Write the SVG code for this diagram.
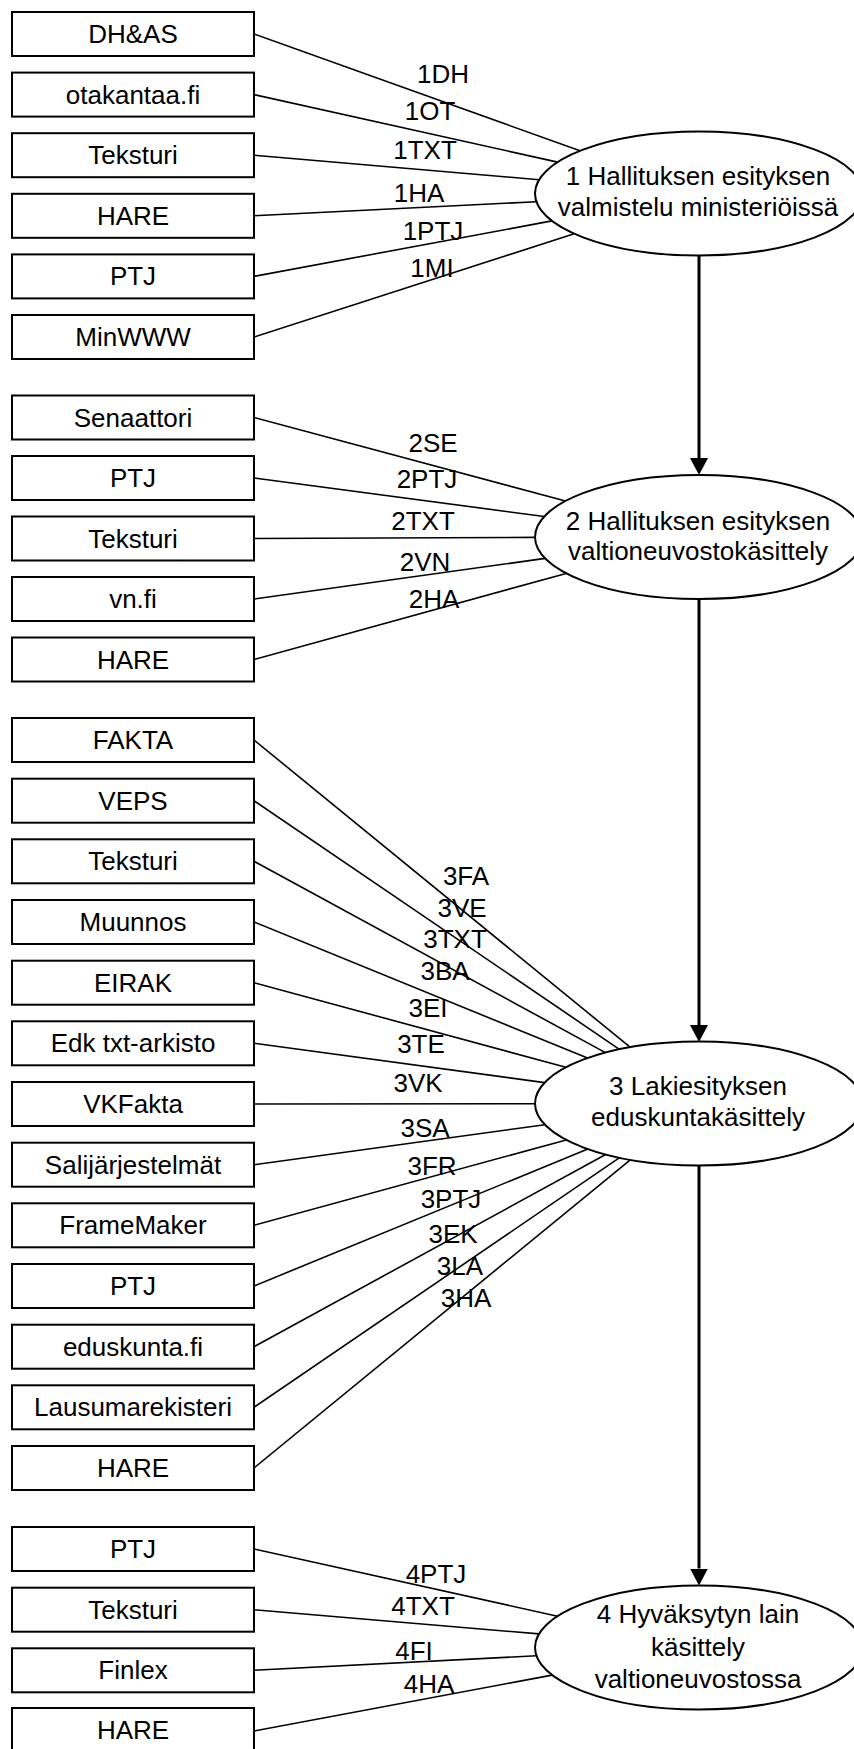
<svg xmlns="http://www.w3.org/2000/svg" width="854" height="1749" viewBox="0 0 854 1749">
<style>
.box{fill:#fff;stroke:#000;stroke-width:2}
.ell{fill:#fff;stroke:#000;stroke-width:2}
.t{font-family:"Liberation Sans",Arial,sans-serif;font-size:26px;fill:#000;text-anchor:middle}
.c{stroke:#000;stroke-width:1.6;fill:none}
.flow{stroke:#000;stroke-width:3;fill:none;marker-end:url(#ah)}
</style>
<defs>
<marker id="ah" markerUnits="userSpaceOnUse" markerWidth="18" markerHeight="18" refX="0" refY="9" orient="auto">
<path d="M0,0 L17,9 L0,18 Z" fill="#000"/>
</marker>
</defs>
<rect width="854" height="1749" fill="#fff"/>

<g id="connectors">
<!-- group 1 -->
<line class="c" x1="254" y1="34" x2="580" y2="150.8"/>
<line class="c" x1="254" y1="94.6" x2="557.6" y2="162.1"/>
<line class="c" x1="254" y1="155.2" x2="539.1" y2="179.7"/>
<line class="c" x1="254" y1="215.8" x2="536.4" y2="201.7"/>
<line class="c" x1="254" y1="276.4" x2="551.9" y2="220.9"/>
<line class="c" x1="254" y1="337" x2="574.2" y2="233.7"/>
<!-- group 2 -->
<line class="c" x1="254" y1="417.5" x2="565.5" y2="501"/>
<line class="c" x1="254" y1="478" x2="544.2" y2="516.5"/>
<line class="c" x1="254" y1="538.5" x2="535" y2="537.4"/>
<line class="c" x1="254" y1="599" x2="545.1" y2="558.4"/>
<line class="c" x1="254" y1="659.5" x2="566.2" y2="573.4"/>
<!-- group 3 -->
<line class="c" x1="254" y1="740" x2="630.1" y2="1047.2"/>
<line class="c" x1="254" y1="800.7" x2="619.4" y2="1049.3"/>
<line class="c" x1="254" y1="861.3" x2="605.4" y2="1052.6"/>
<line class="c" x1="254" y1="922" x2="587.5" y2="1058"/>
<line class="c" x1="254" y1="982.7" x2="565.8" y2="1067.3"/>
<line class="c" x1="254" y1="1043.3" x2="544.6" y2="1082.6"/>
<line class="c" x1="254" y1="1104" x2="535" y2="1103.7"/>
<line class="c" x1="254" y1="1164.7" x2="544.9" y2="1124.7"/>
<line class="c" x1="254" y1="1225.3" x2="566.2" y2="1139.9"/>
<line class="c" x1="254" y1="1286" x2="587.8" y2="1149.1"/>
<line class="c" x1="254" y1="1346.7" x2="605.7" y2="1154.5"/>
<line class="c" x1="254" y1="1407.3" x2="619.6" y2="1157.7"/>
<line class="c" x1="254" y1="1468" x2="630.3" y2="1159.8"/>
<!-- group 4 -->
<line class="c" x1="254" y1="1549" x2="557.5" y2="1616.2"/>
<line class="c" x1="254" y1="1609.7" x2="539" y2="1633.9"/>
<line class="c" x1="254" y1="1670.3" x2="536.5" y2="1655.8"/>
<line class="c" x1="254" y1="1731" x2="552.1" y2="1675.1"/>
<!-- flow arrows -->
<line class="flow" x1="699" y1="256" x2="699" y2="458"/>
<line class="flow" x1="699" y1="599" x2="699" y2="1025"/>
<line class="flow" x1="699" y1="1165.5" x2="699" y2="1568.5"/>
<!-- labels -->
<text class="t" x="443" y="83">1DH</text>
<text class="t" x="430" y="120">1OT</text>
<text class="t" x="425" y="159">1TXT</text>
<text class="t" x="419" y="202">1HA</text>
<text class="t" x="433" y="240">1PTJ</text>
<text class="t" x="432" y="277">1MI</text>
<text class="t" x="433" y="452">2SE</text>
<text class="t" x="427" y="488">2PTJ</text>
<text class="t" x="423" y="530">2TXT</text>
<text class="t" x="425" y="571">2VN</text>
<text class="t" x="434" y="608">2HA</text>
<text class="t" x="466" y="885">3FA</text>
<text class="t" x="462" y="917">3VE</text>
<text class="t" x="455" y="948">3TXT</text>
<text class="t" x="445" y="980">3BA</text>
<text class="t" x="428" y="1017">3EI</text>
<text class="t" x="421" y="1053">3TE</text>
<text class="t" x="418" y="1092">3VK</text>
<text class="t" x="425" y="1137">3SA</text>
<text class="t" x="432" y="1175">3FR</text>
<text class="t" x="451" y="1208">3PTJ</text>
<text class="t" x="453" y="1243">3EK</text>
<text class="t" x="460" y="1275">3LA</text>
<text class="t" x="466" y="1307">3HA</text>
<text class="t" x="436" y="1583">4PTJ</text>
<text class="t" x="423" y="1615">4TXT</text>
<text class="t" x="414" y="1660">4FI</text>
<text class="t" x="429" y="1693">4HA</text>
</g>

<!-- process ellipses -->
<g id="p1"><ellipse class="ell" cx="699" cy="193.5" rx="164" ry="62"/>
<text class="t" x="698" y="185">1 Hallituksen esityksen</text>
<text class="t" x="698" y="216">valmistelu ministeriöissä</text></g>
<g id="p2"><ellipse class="ell" cx="699" cy="537" rx="164" ry="62"/>
<text class="t" x="698" y="530">2 Hallituksen esityksen</text>
<text class="t" x="698" y="560">valtioneuvostokäsittely</text></g>
<g id="p3"><ellipse class="ell" cx="699" cy="1103.5" rx="164" ry="62"/>
<text class="t" x="698" y="1095">3 Lakiesityksen</text>
<text class="t" x="698" y="1126">eduskuntakäsittely</text></g>
<g id="p4"><ellipse class="ell" cx="699" cy="1647.5" rx="164" ry="62"/>
<text class="t" x="698" y="1623">4 Hyväksytyn lain</text>
<text class="t" x="698" y="1656">käsittely</text>
<text class="t" x="698" y="1688">valtioneuvostossa</text></g>

<!-- group 1 boxes -->
<g id="b1-dhas"><rect class="box" x="12" y="12" width="242" height="44"/><text class="t" x="133" y="43">DH&amp;AS</text></g>
<g id="b1-otakantaa"><rect class="box" x="12" y="72.6" width="242" height="44"/><text class="t" x="133" y="103.6">otakantaa.fi</text></g>
<g id="b1-teksturi"><rect class="box" x="12" y="133.2" width="242" height="44"/><text class="t" x="133" y="164.2">Teksturi</text></g>
<g id="b1-hare"><rect class="box" x="12" y="193.8" width="242" height="44"/><text class="t" x="133" y="224.8">HARE</text></g>
<g id="b1-ptj"><rect class="box" x="12" y="254.4" width="242" height="44"/><text class="t" x="133" y="285.4">PTJ</text></g>
<g id="b1-minwww"><rect class="box" x="12" y="315" width="242" height="44"/><text class="t" x="133" y="346">MinWWW</text></g>

<!-- group 2 boxes -->
<g id="b2-senaattori"><rect class="box" x="12" y="395.5" width="242" height="44"/><text class="t" x="133" y="426.5">Senaattori</text></g>
<g id="b2-ptj"><rect class="box" x="12" y="456" width="242" height="44"/><text class="t" x="133" y="487">PTJ</text></g>
<g id="b2-teksturi"><rect class="box" x="12" y="516.5" width="242" height="44"/><text class="t" x="133" y="547.5">Teksturi</text></g>
<g id="b2-vnfi"><rect class="box" x="12" y="577" width="242" height="44"/><text class="t" x="133" y="608">vn.fi</text></g>
<g id="b2-hare"><rect class="box" x="12" y="637.5" width="242" height="44"/><text class="t" x="133" y="668.5">HARE</text></g>

<!-- group 3 boxes -->
<g id="b3-fakta"><rect class="box" x="12" y="718" width="242" height="44"/><text class="t" x="133" y="749">FAKTA</text></g>
<g id="b3-veps"><rect class="box" x="12" y="778.7" width="242" height="44"/><text class="t" x="133" y="809.7">VEPS</text></g>
<g id="b3-teksturi"><rect class="box" x="12" y="839.3" width="242" height="44"/><text class="t" x="133" y="870.3">Teksturi</text></g>
<g id="b3-muunnos"><rect class="box" x="12" y="900" width="242" height="44"/><text class="t" x="133" y="931">Muunnos</text></g>
<g id="b3-eirak"><rect class="box" x="12" y="960.7" width="242" height="44"/><text class="t" x="133" y="991.7">EIRAK</text></g>
<g id="b3-edk"><rect class="box" x="12" y="1021.3" width="242" height="44"/><text class="t" x="133" y="1052.3">Edk txt-arkisto</text></g>
<g id="b3-vkfakta"><rect class="box" x="12" y="1082" width="242" height="44"/><text class="t" x="133" y="1113">VKFakta</text></g>
<g id="b3-sali"><rect class="box" x="12" y="1142.7" width="242" height="44"/><text class="t" x="133" y="1173.7">Salijärjestelmät</text></g>
<g id="b3-frame"><rect class="box" x="12" y="1203.3" width="242" height="44"/><text class="t" x="133" y="1234.3">FrameMaker</text></g>
<g id="b3-ptj"><rect class="box" x="12" y="1264" width="242" height="44"/><text class="t" x="133" y="1295">PTJ</text></g>
<g id="b3-eduskunta"><rect class="box" x="12" y="1324.7" width="242" height="44"/><text class="t" x="133" y="1355.7">eduskunta.fi</text></g>
<g id="b3-lausuma"><rect class="box" x="12" y="1385.3" width="242" height="44"/><text class="t" x="133" y="1416.3">Lausumarekisteri</text></g>
<g id="b3-hare"><rect class="box" x="12" y="1446" width="242" height="44"/><text class="t" x="133" y="1477">HARE</text></g>

<!-- group 4 boxes -->
<g id="b4-ptj"><rect class="box" x="12" y="1527" width="242" height="44"/><text class="t" x="133" y="1558">PTJ</text></g>
<g id="b4-teksturi"><rect class="box" x="12" y="1587.7" width="242" height="44"/><text class="t" x="133" y="1618.7">Teksturi</text></g>
<g id="b4-finlex"><rect class="box" x="12" y="1648.3" width="242" height="44"/><text class="t" x="133" y="1679.3">Finlex</text></g>
<g id="b4-hare"><rect class="box" x="12" y="1708" width="242" height="44"/><text class="t" x="133" y="1739">HARE</text></g>
</svg>
